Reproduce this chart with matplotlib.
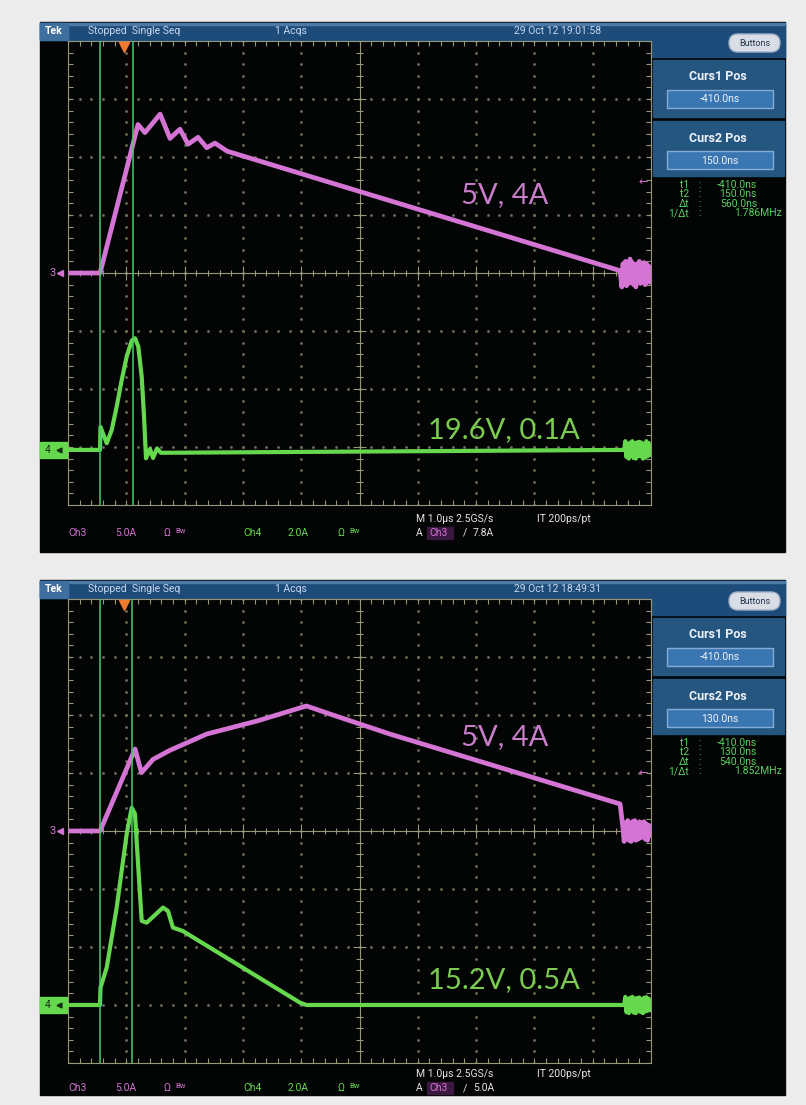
import matplotlib
matplotlib.use("Agg")
import matplotlib.pyplot as plt
from matplotlib.patches import Rectangle, FancyBboxPatch
from matplotlib.collections import LineCollection
import numpy as np

W, H = 806, 1105

# ---- capture 1 (time in us, current in A) ----
t_ch3_a = [-0.96, -0.41, 0.24, 0.36, 0.62, 0.79, 0.96, 1.10, 1.27, 1.42, 1.56, 1.77, 8.51,
           8.54, 8.56, 8.58, 8.60, 8.62, 8.64, 8.66, 8.68, 8.70, 8.72, 8.74, 8.76, 8.78,
           8.80, 8.82, 8.84, 8.86, 8.88, 8.90, 8.92, 8.94, 8.96, 8.98, 9.00, 9.02, 9.04]
i_ch3_a = [0, 0, 12.8, 12.1, 13.7, 11.6, 12.4, 11.1, 11.7, 10.8, 11.2, 10.5, 0.2,
           -1.2, 0.8, -0.6, 1.0, -1.1, 0.5, -0.9, 1.2, -0.7, 0.9, -1.0, 0.6, -1.2,
           0.8, -0.5, 1.0, -0.9, 0.7, -0.6, 0.9, -1.0, 0.8, -0.7, 0.6, -0.8, 0.3]
t_ch4_a = [-0.96, -0.411, -0.403, -0.296, -0.210, -0.125, -0.039, 0.047, 0.133, 0.189,
           0.246, 0.304, 0.344, 0.378, 0.447, 0.498, 0.567, 0.635, 8.58,
           8.60, 8.62, 8.64, 8.66, 8.68, 8.70, 8.72, 8.74, 8.76, 8.78, 8.80, 8.82, 8.84,
           8.86, 8.88, 8.90, 8.92, 8.94, 8.96, 8.98, 9.00, 9.02, 9.04]
i_ch4_a = [0, 0, 0.79, 0.23, 0.69, 1.49, 2.41, 3.22, 3.77, 3.85,
           3.56, 2.53, 1.15, -0.29, 0.03, -0.28, 0.05, -0.1, 0,
           0.3, -0.25, 0.2, -0.3, 0.25, -0.2, 0.3, -0.28, 0.22, -0.3, 0.26, -0.22, 0.28,
           -0.2, 0.25, -0.3, 0.2, -0.26, 0.3, -0.22, 0.24, -0.18, 0.1]

# ---- capture 2 ----
t_ch3_b = [-0.96, -0.41, 0.19, 0.30, 0.50, 0.79, 1.42, 2.28, 3.13, 3.53, 4.56, 8.51, 8.56,
           8.58, 8.60, 8.62, 8.64, 8.66, 8.68, 8.70, 8.72, 8.74, 8.76, 8.78, 8.80, 8.82,
           8.84, 8.86, 8.88, 8.90, 8.92, 8.94, 8.96, 8.98, 9.00, 9.02, 9.04]
i_ch3_b = [0, 0, 7.07, 5.03, 6.18, 6.96, 8.36, 9.48, 10.78, 10.09, 8.36, 2.33, 0.2,
           -0.9, 0.7, -0.6, 0.9, -0.8, 0.6, -0.9, 0.8, -0.5, 0.9, -0.8, 0.6, -0.7,
           0.8, -0.6, 0.7, -0.5, 0.8, -0.7, 0.6, -0.8, 0.5, -0.4, 0.2]
t_ch4_b = [-0.96, -0.411, -0.403, -0.296, -0.125, 0.047, 0.133, 0.189, 0.246, 0.304,
           0.39, 0.67, 0.755, 0.84, 1.01, 3.02, 3.13, 8.58,
           8.60, 8.62, 8.64, 8.66, 8.68, 8.70, 8.72, 8.74, 8.76, 8.78, 8.80, 8.82, 8.84,
           8.86, 8.88, 8.90, 8.92, 8.94, 8.96, 8.98, 9.00, 9.02, 9.04]
i_ch4_b = [0, 0, 0.60, 1.29, 3.36, 5.90, 6.80, 6.59, 4.73, 2.90,
           2.84, 3.36, 3.24, 2.67, 2.55, 0.08, 0, 0,
           0.28, -0.25, 0.2, -0.28, 0.25, -0.2, 0.28, -0.26, 0.22, -0.28, 0.24, -0.2, 0.26,
           -0.24, 0.2, -0.28, 0.25, -0.22, 0.27, -0.2, 0.22, -0.18, 0.1]

ch3_t = [t_ch3_a, t_ch3_b]
ch3_i = [i_ch3_a, i_ch3_b]
ch4_t = [t_ch4_a, t_ch4_b]
ch4_i = [i_ch4_a, i_ch4_b]

dates = ["29 Oct 12 19:01:58", "29 Oct 12 18:49:31"]
curs1 = [-0.41, -0.41]          # us
curs2 = [0.15, 0.13]            # us
trig_level = [7.8, 5.0]         # A
ch4_pos = [-3.05, -3.0]         # div
labels3 = ["5V, 4A", "5V, 4A"]
labels4 = ["19.6V, 0.1A", "15.2V, 0.5A"]
label3_y = [195, 737]
label4_y = [430, 980]

T_LEFT = -0.96   # time at left graticule edge, 1 us/div
CH3_SCALE = 5.0
CH4_SCALE = 2.0

MAG = '#d474d4'
GRN = '#66d84e'
CUR = '#46cc6a'
GRID = '#9a9678'
DOT = '#6f6c58'
BLUE = '#1e4c7a'
BLUE2 = '#24567f'
BOX = '#3a76b2'
UI = 'Roboto'


def box(x0, y0, x1, y1):
    return [x0 / W, 1 - y1 / H, (x1 - x0) / W, (y1 - y0) / H]


fig = plt.figure(figsize=(W / 100, H / 100), dpi=100)
fig.patch.set_facecolor('#ececec')
bg = fig.add_axes([0, 0, 1, 1], zorder=0)
bg.set_xlim(0, W)
bg.set_ylim(H, 0)
bg.axis('off')


def rect(x0, y0, x1, y1, **kw):
    bg.add_patch(Rectangle((x0, y0), x1 - x0, y1 - y0, **kw))


def graticule(g):
    g.set_xlim(0, 10)
    g.set_ylim(-4, 4)
    g.set_facecolor('#020503')
    g.set_xticks([])
    g.set_yticks([])
    for s in g.spines.values():
        s.set_color(GRID)
        s.set_linewidth(0.8)
    mx = np.arange(0, 10.01, 0.2)
    my = np.arange(-4, 4.01, 0.2)
    for x in range(1, 10):
        if x != 5:
            g.plot(np.full_like(my, x), my, ls='none', marker='s', ms=0.9, color=DOT)
    for y in range(-3, 4):
        if y != 0:
            g.plot(mx, np.full_like(mx, y), ls='none', marker='s', ms=0.9, color=DOT)
    g.axhline(0, color=GRID, lw=0.8)
    g.axvline(5, color=GRID, lw=0.8)
    segs = []
    for x in mx:
        L = 0.12 if abs(x - round(x)) < 1e-6 else 0.06
        segs.append([(x, -L), (x, L)])
        segs.append([(x, -4), (x, -4 + 0.09)])
        segs.append([(x, 4), (x, 4 - 0.09)])
    for y in my:
        L = 0.12 if abs(y - round(y)) < 1e-6 else 0.06
        segs.append([(5 - L, y), (5 + L, y)])
        segs.append([(0, y), (0.09, y)])
        segs.append([(10, y), (10 - 0.09, y)])
    g.add_collection(LineCollection(segs, colors=GRID, linewidths=0.8))


def panel(k, off, bottom, ym, yc):
    gt, gb = 41 + off, 505 + off
    rect(40, 22 + off, 785, bottom, color='#020503', zorder=0)
    # top bar
    rect(40, 23 + off, 785, 40 + off, color=BLUE, zorder=1)
    rect(40, 23 + off, 785, 24.5 + off, color='#4d7aa6', zorder=1)
    rect(40, 23 + off, 68, 40 + off, color='#3f6f9e', zorder=1)
    bg.text(54, 31.5 + off, 'Tek', color='white', fontsize=7.5, fontweight='bold',
            family=UI, ha='center', va='center', zorder=2)
    bg.text(88, 31.5 + off, 'Stopped  Single Seq', color='#c9d8ee', fontsize=7.5,
            family=UI, ha='left', va='center', zorder=2)
    bg.text(291, 31.5 + off, '1 Acqs', color='#c9d8ee', fontsize=7.5,
            family=UI, ha='center', va='center', zorder=2)
    bg.text(558, 31.5 + off, dates[k], color='#c9d8ee', fontsize=7.5,
            family=UI, ha='center', va='center', zorder=2)
    # right side panel
    rect(652, 40 + off, 785, 57 + off, color=BLUE, zorder=1)
    bg.add_patch(FancyBboxPatch((731, 36 + off), 47, 14, boxstyle='round,pad=2,rounding_size=9',
                                fc='#d9dee6', ec='#9fb0c8', lw=1, zorder=2))
    bg.text(754.5, 43 + off, 'Buttons', color='#25364d', fontsize=6.5, family=UI,
            ha='center', va='center', zorder=3)
    c1, c2 = curs1[k], curs2[k]
    for (y0, y1, title, val) in [(60, 117, 'Curs1 Pos', c1), (121, 176, 'Curs2 Pos', c2)]:
        rect(653, y0 + off, 784, y1 + off, color=BLUE2, zorder=1)
        bg.text(718, y0 + 17 + off, title, color='#eef2f8', fontsize=9, fontweight='bold',
                family=UI, ha='center', va='center', zorder=2)
        rect(667, y0 + 30 + off, 773, y0 + 48 + off, fc=BOX, ec='#86acd6', lw=1, zorder=2)
        bg.text(720, y0 + 39.5 + off, '%.1fns' % (val * 1000), color='#eef2f8', fontsize=7.5,
                family=UI, ha='center', va='center', zorder=3)
    dt = c2 - c1
    rows = [('t1', '%.1fns' % (c1 * 1000), 757), ('t2', '%.1fns' % (c2 * 1000), 757),
            ('\u0394t', '%.1fns' % (dt * 1000), 757), ('1/\u0394t', '%.3fMHz' % (1 / dt), 782)]
    for j, (lab, val, xr) in enumerate(rows):
        yy = 185 + 9.4 * j + off
        bg.text(689, yy, lab, color='#58d060', fontsize=7.5, family=UI, ha='right', va='center')
        bg.text(700, yy, ':', color='#58d060', fontsize=7.5, family=UI, ha='center', va='center')
        bg.text(xr, yy, val, color='#58d060', fontsize=7.5, family=UI, ha='right', va='center')

    # bottom readout
    for x, s in [(68, 'Ch3'), (115, '5.0A'), (163, '\u03a9')]:
        bg.text(x, yc, s, color=MAG, fontsize=7.5, family=UI, ha='left', va='center')
    bg.text(175, yc - 2, 'Bw', color=MAG, fontsize=5.5, family=UI, ha='left', va='center')
    for x, s in [(243, 'Ch4'), (288, '2.0A'), (337, '\u03a9')]:
        bg.text(x, yc, s, color=GRN, fontsize=7.5, family=UI, ha='left', va='center')
    bg.text(349, yc - 2, 'Bw', color=GRN, fontsize=5.5, family=UI, ha='left', va='center')
    bg.text(416, ym, 'M 1.0\u00b5s 2.5GS/s', color='#e4e4e4', fontsize=7.5, family=UI,
            ha='left', va='center')
    bg.text(537, ym, 'IT 200ps/pt', color='#e4e4e4', fontsize=7.5, family=UI,
            ha='left', va='center')
    bg.text(416, yc, 'A', color='#e4e4e4', fontsize=7.5, family=UI, ha='left', va='center')
    rect(427, yc - 6, 453, yc + 6, color='#3b1840', zorder=1)
    bg.text(429, yc, 'Ch3', color=MAG, fontsize=7.5, family=UI, ha='left', va='center', zorder=2)
    bg.text(463, yc, '/', color='#e4e4e4', fontsize=7.5, family=UI, ha='left', va='center')
    bg.text(473, yc, '%.1fA' % trig_level[k], color='#e4e4e4', fontsize=7.5, family=UI,
            ha='left', va='center')

    # graticule and traces
    rc = box(68, gt, 651, gb)
    g = fig.add_axes(rc, zorder=1)
    graticule(g)
    ax3 = fig.add_axes(rc, zorder=2)
    ax3.set_xlim(T_LEFT, T_LEFT + 10)
    ax3.set_ylim(-4 * CH3_SCALE, 4 * CH3_SCALE)
    ax3.axis('off')
    ax4 = fig.add_axes(rc, zorder=3)
    ax4.set_xlim(T_LEFT, T_LEFT + 10)
    ax4.set_ylim((-4 - ch4_pos[k]) * CH4_SCALE, (4 - ch4_pos[k]) * CH4_SCALE)
    ax4.axis('off')

    ax3.plot(ch3_t[k], ch3_i[k], color=MAG, lw=3.4, solid_joinstyle='round')
    ax4.plot(ch4_t[k], ch4_i[k], color=GRN, lw=3.0, solid_joinstyle='round')
    for c in (c1, c2):
        ax4.axvline(c, color=CUR, lw=1.1)

    # markers
    ax3.plot([0], [0.988], marker='v', ms=7, color='#f07a30', mec='#f07a30',
             transform=ax3.get_xaxis_transform(), clip_on=False)
    ax3.text(0.995, trig_level[k], '\u2190', color=MAG, fontsize=8, ha='right', va='center',
             transform=ax3.get_yaxis_transform())
    ax3.text(-0.026, 0, '3', color=MAG, fontsize=8, family=UI, ha='center', va='center',
             transform=ax3.get_yaxis_transform(), clip_on=False)
    ax3.plot([-0.013], [0], marker='<', ms=4, color=MAG, transform=ax3.get_yaxis_transform(),
             clip_on=False)
    h4 = 16 / 58 * CH4_SCALE
    ax4.add_patch(Rectangle((-0.0485, -h4 / 2), 0.046, h4, color=GRN, clip_on=False,
                            transform=ax4.get_yaxis_transform()))
    ax4.text(-0.034, 0, '4', color='#103010', fontsize=7.5, family=UI, ha='center',
             va='center', transform=ax4.get_yaxis_transform(), clip_on=False)
    ax4.plot([-0.016], [0], marker='<', ms=3.5, color='#103010',
             transform=ax4.get_yaxis_transform(), clip_on=False)

    # overlay labels
    ax4.text(505, label3_y[k], labels3[k], color='#c97cc9', fontsize=21, family='Lato',
             ha='center', va='center', transform=bg.transData, clip_on=False)
    ax4.text(504, label4_y[k], labels4[k], color='#7bcb50', fontsize=21, family='Lato',
             ha='center', va='center', transform=bg.transData, clip_on=False)


panel(0, 0, 552, 519, 533)
panel(1, 558, 1095, 1074, 1088)

fig.savefig('out.png', dpi=100, facecolor=fig.get_facecolor())
